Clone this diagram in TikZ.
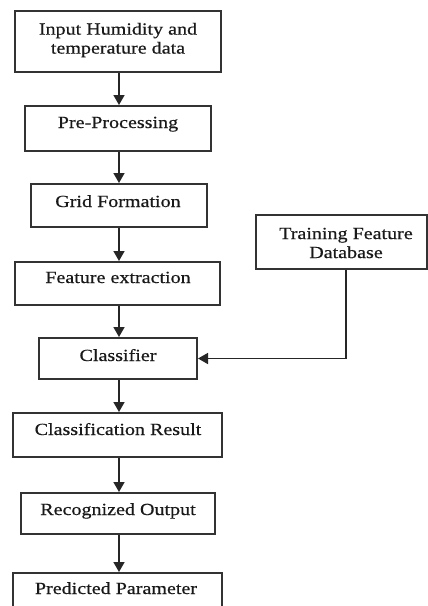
\documentclass[tikz,border=0pt]{standalone}
\usepackage{fontspec}
\setmainfont[FakeStretch=1.18,FakeBold=0.5]{Liberation Serif}
\usetikzlibrary{arrows.meta}
\begin{document}
\begin{tikzpicture}[x=1pt,y=-1pt,
  box/.style={draw=black!80, line width=2pt, rectangle, inner sep=0pt},
  lbl/.style={font=\fontsize{17}{19}\selectfont, inner sep=0pt, align=center, text=black!90},
  flow/.style={draw=black!85, line width=1.6pt, -{Triangle[width=11pt,length=10pt]}}]
\useasboundingbox (0,0) rectangle (428,606);
\fill[white] (0,0) rectangle (428,606);
% boxes
\node[box, minimum width=206pt, minimum height=61pt] (b1) at (118,41.5) {};
\node[box, minimum width=186pt, minimum height=45pt] (b2) at (118,128.5) {};
\node[box, minimum width=176pt, minimum height=43pt] (b3) at (119,205.5) {};
\node[box, minimum width=205pt, minimum height=43pt] (b4) at (117.5,283.5) {};
\node[box, minimum width=158pt, minimum height=41pt] (b5) at (118,358.5) {};
\node[box, minimum width=209pt, minimum height=44pt] (b6) at (117.5,435) {};
\node[box, minimum width=194pt, minimum height=41pt] (b7) at (118,513.5) {};
\node[box, minimum width=209pt, minimum height=47pt] (b8) at (117.5,596.5) {};
\node[box, minimum width=171pt, minimum height=54pt] (tr) at (341.5,242) {};
% texts
\node[lbl] (t1) at (118,40) {Input Humidity and\\temperature data};
\node[lbl, anchor=base] (t2) at (118,128) {Pre-Processing};
\node[lbl, anchor=base] (t3) at (118,207) {Grid Formation};
\node[lbl, anchor=base] (t4) at (118,283) {Feature extraction};
\node[lbl, anchor=base] (t5) at (118,361) {Classifier};
\node[lbl, anchor=base] (t6) at (118,435) {Classification Result};
\node[lbl, anchor=base] (t7) at (118,515) {Recognized Output};
\node[lbl, anchor=base] (t8) at (116,594) {Predicted Parameter};
\node[lbl] (t9) at (346,243) {Training Feature\\Database};
% connectors
\draw[flow] ([xshift=1pt]b1.south) -- ([xshift=1pt]b1.south |- b2.north);
\draw[flow] ([xshift=1pt]b2.south) -- ([xshift=1pt]b2.south |- b3.north);
\draw[flow] (b3.south) -- (b3.south |- b4.north);
\draw[flow] ([xshift=1pt]b5.north |- b4.south) -- ([xshift=1pt]b5.north);
\draw[flow] ([xshift=1pt]b5.south) -- ([xshift=1pt]b5.south |- b6.north);
\draw[flow] ([xshift=1pt]b7.north |- b6.south) -- ([xshift=1pt]b7.north);
\draw[flow] ([xshift=1pt]b7.south) -- ([xshift=1pt]b7.south |- b8.north);
\draw[flow] ([xshift=4.5pt]tr.south) |- (b5.east);
\end{tikzpicture}
\end{document}
